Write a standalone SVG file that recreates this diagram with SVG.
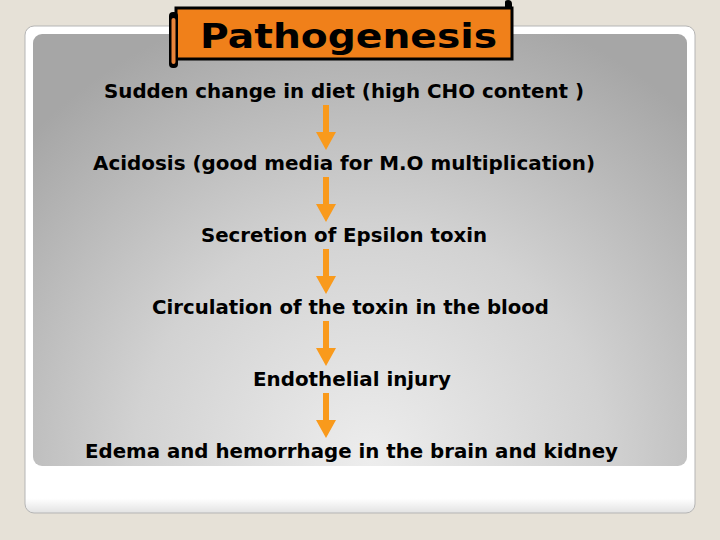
<svg xmlns="http://www.w3.org/2000/svg" width="720" height="540" viewBox="0 0 720 540">
<defs>
<radialGradient id="panelGrad" gradientUnits="userSpaceOnUse" cx="370" cy="460" r="470">
<stop offset="0" stop-color="#ededed"/>
<stop offset="0.5" stop-color="#d2d2d2"/>
<stop offset="1" stop-color="#a6a6a6"/>
</radialGradient>
<linearGradient id="cardShade" x1="0" y1="0" x2="0" y2="1">
<stop offset="0.97" stop-color="#ffffff"/>
<stop offset="1" stop-color="#e2e2e2"/>
</linearGradient>
</defs>
<style>
.step{font-family:"DejaVu Sans",Verdana,sans-serif;font-weight:bold;font-size:19px;fill:#000}
.title{font-family:"DejaVu Sans",Verdana,sans-serif;font-weight:bold;font-size:34px;fill:#000}
.conn{fill:#f99a1c}
</style>
<rect x="0" y="0" width="720" height="540" fill="#e6e1d7"/>
<rect x="25" y="26" width="670" height="487" rx="9" fill="url(#cardShade)" stroke="#b5b5b5" stroke-width="1"/>
<rect x="33" y="34" width="654" height="432" rx="9" fill="url(#panelGrad)"/>

<g id="title">
<path d="M505,9 L505,2 Q505,0 508,0 Q512,0 512,4 L512,9 Z" fill="#000"/>
<rect x="176" y="8" width="336" height="51" fill="#f0801a" stroke="#000" stroke-width="3"/>
<rect x="169" y="12" width="9" height="56" rx="4" fill="#000"/>
<rect x="171.5" y="18" width="4" height="46" rx="2" fill="#e9843a"/>
<text class="title" x="200" y="48" textLength="297" lengthAdjust="spacingAndGlyphs">Pathogenesis</text>
</g>

<g id="connectors">
<path class="conn" d="M323,105 H329 V132 H336 L326,150 L316,132 H323 Z"/>
<path class="conn" d="M323,177 H329 V204 H336 L326,222 L316,204 H323 Z"/>
<path class="conn" d="M323,249 H329 V276 H336 L326,294 L316,276 H323 Z"/>
<path class="conn" d="M323,321 H329 V348 H336 L326,366 L316,348 H323 Z"/>
<path class="conn" d="M323,393 H329 V420 H336 L326,438 L316,420 H323 Z"/>
</g>

<g id="step1"><text class="step" x="104" y="98" textLength="480" lengthAdjust="spacingAndGlyphs">Sudden change in diet (high CHO content )</text></g>
<g id="step2"><text class="step" x="93" y="170" textLength="502" lengthAdjust="spacingAndGlyphs">Acidosis (good media for M.O multiplication)</text></g>
<g id="step3"><text class="step" x="201" y="242" textLength="286" lengthAdjust="spacingAndGlyphs">Secretion of Epsilon toxin</text></g>
<g id="step4"><text class="step" x="152" y="314" textLength="397" lengthAdjust="spacingAndGlyphs">Circulation of the toxin in the blood</text></g>
<g id="step5"><text class="step" x="253" y="386" textLength="198" lengthAdjust="spacingAndGlyphs">Endothelial injury</text></g>
<g id="step6"><text class="step" x="85" y="458" textLength="533" lengthAdjust="spacingAndGlyphs">Edema and hemorrhage in the brain and kidney</text></g>
</svg>
